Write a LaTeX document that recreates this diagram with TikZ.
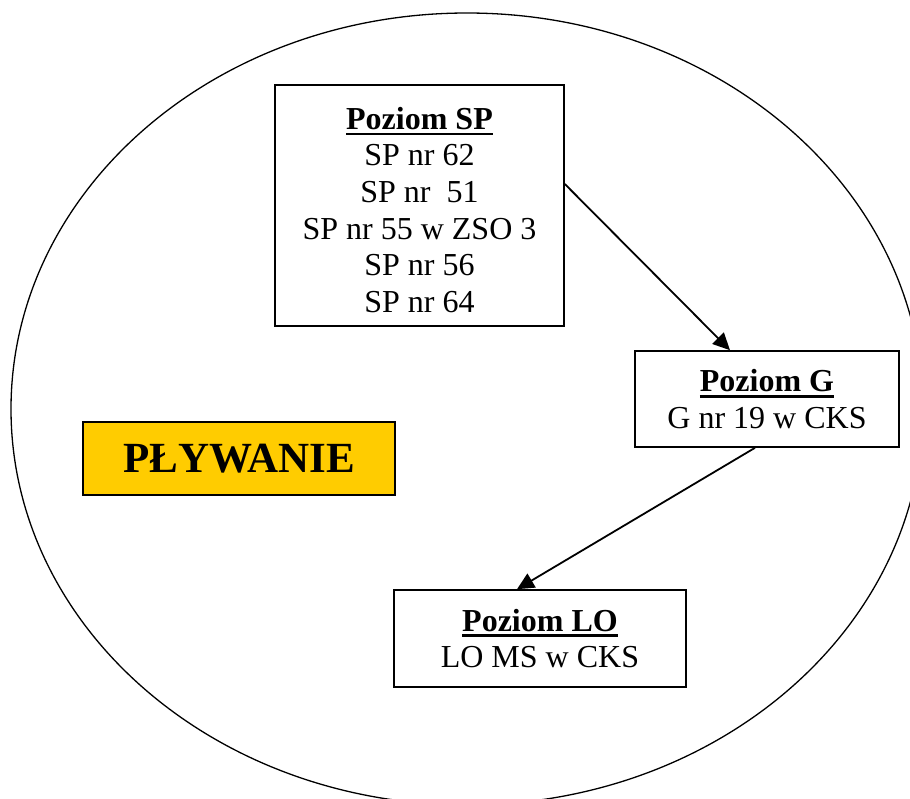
\documentclass[tikz,border=0pt]{standalone}
\usepackage{fontspec}
\setmainfont{Liberation Serif}
\usetikzlibrary{arrows.meta}
\definecolor{plyw}{HTML}{FFCC00}
\newcommand\myul[1]{\setbox0\hbox{#1}\rlap{\rule[-6pt]{\wd0}{2.8pt}}\box0}
\tikzset{
  levelbox/.style={draw, line width=1.6pt, inner sep=0pt, align=center,
    font=\fontsize{32}{36.6}\selectfont},
  conn/.style={line width=1.8pt, -{Triangle[length=17pt,width=16pt]}},
}
\begin{document}
\begin{tikzpicture}[x=1pt,y=-1pt]
\useasboundingbox (0,0) rectangle (910,798);
\begin{scope}
  \clip (0,0) rectangle (910,798);
  \draw[line width=1.3pt] (467,409) ellipse [x radius=456, y radius=396];
\end{scope}
\node[levelbox, minimum width=289pt, minimum height=241pt] (sp) at (419.5,205.5)
  {\rule{0pt}{31pt}\myul{\textbf{Poziom SP}}\\SP nr 62\\SP nr\ \ 51\\SP nr 55 w ZSO 3\\SP nr 56\\SP nr 64};
\node[levelbox, minimum width=264pt, minimum height=96pt] (g) at (767,399)
  {\myul{\textbf{Poziom G}}\\G nr 19 w CKS};
\node[levelbox, minimum width=292pt, minimum height=97pt] (lo) at (540,638.5)
  {\myul{\textbf{Poziom LO}}\\LO MS w CKS};
\node[draw, line width=1.6pt, fill=plyw, minimum width=312pt, minimum height=73pt,
  inner sep=0pt, font=\fontsize{43}{50}\selectfont\bfseries] (plyw) at (239,458.5) {PŁYWANIE};
\draw[conn] ([yshift=21.5pt]sp.east) -- ([xshift=-37pt]g.north);
\draw[conn] ([xshift=-12pt]g.south) -- ([xshift=-23pt]lo.north);
\end{tikzpicture}
\end{document}
